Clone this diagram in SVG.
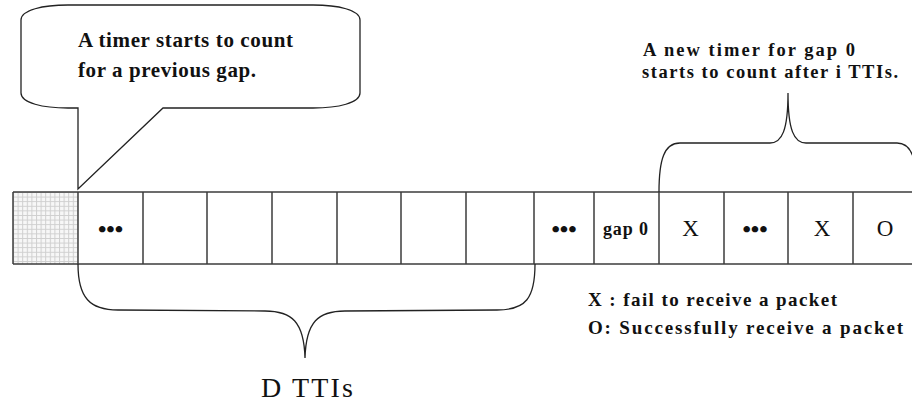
<svg xmlns="http://www.w3.org/2000/svg" width="912" height="406" viewBox="0 0 912 406">
  <defs>
    <!-- fine grid fill for the first (shaded) slot -->
    <pattern id="grid" width="4.6" height="4.6" patternUnits="userSpaceOnUse" x="13" y="192">
      <rect width="4.6" height="4.6" fill="#f7f7f7"/>
      <path d="M0,0.5 H4.6 M0.5,0 V4.6" stroke="#cfcfcf" stroke-width="1"/>
    </pattern>
    <style>
      .lbl { font-family: "Liberation Serif", "Times New Roman", serif; fill: #111; }
      .b { font-weight: bold; }
      .cell { fill: none; stroke: #3c3c3c; stroke-width: 1.5; }
      .line { fill: none; stroke: #222; stroke-width: 1.3; }
    </style>
  </defs>
  <rect width="912" height="406" fill="#fff"/>

  <!-- speech bubble -->
  <g id="callout">
    <path class="line" fill="#fff" d="M68,5 L313,5 C338,5 360,10 360,20 L360,93 C360,103 338,108 313,108 L163,108 L78,189 L78,108 L68,108 C43,108 21,103 21,93 L21,20 C21,10 43,5 68,5 Z"/>
    <text class="lbl b" x="78" y="47" font-size="21" textLength="215" lengthAdjust="spacing">A timer starts to count</text>
    <text class="lbl b" x="78" y="77" font-size="21" textLength="178" lengthAdjust="spacing">for a previous gap.</text>
  </g>

  <!-- TTI slot row -->
  <g id="slots">
    <rect x="13" y="192" width="65" height="72" fill="url(#grid)"/>
    <path class="cell" d="M13,192 H912 M13,264 H912 M13,192 V264 M78,192 V264 M143,192 V264 M207,192 V264 M272,192 V264 M337,192 V264 M401,192 V264 M466,192 V264 M534,192 V264 M594,192 V264 M659,192 V264 M724,192 V264 M788,192 V264 M853,192 V264"/>
    <text class="lbl b" x="110.5" y="237" font-size="24" text-anchor="middle">•••</text>
    <text class="lbl b" x="564" y="237" font-size="24" text-anchor="middle">•••</text>
    <text class="lbl b" x="625.5" y="235" font-size="18" text-anchor="middle" textLength="45" lengthAdjust="spacing">gap 0</text>
    <text class="lbl" x="690.5" y="236" font-size="23" text-anchor="middle">X</text>
    <text class="lbl b" x="755" y="237" font-size="24" text-anchor="middle">•••</text>
    <text class="lbl" x="822" y="236" font-size="23" text-anchor="middle">X</text>
    <text class="lbl" x="885" y="236" font-size="23" text-anchor="middle">O</text>
  </g>

  <!-- braces -->
  <g id="connectors">
    <path class="line" d="M78,264 C78,298 90,310 118,310 L265,311 C292,311 304,322 305,358 C306,322 318,311 345,311 L497,310 C526,310 535,298 535,264"/>
    <path class="line" d="M659,192 C659,160 664,143 680,143 L770,143 C782,143 788,130 788,93 C788,130 794,143 806,143 L897,143 C912,143 917,160 917,192"/>
  </g>

  <g id="brace-labels">
    <text class="lbl" x="307" y="397" font-size="28" text-anchor="middle" textLength="92" lengthAdjust="spacing">D TTIs</text>
    <text class="lbl b" x="643" y="56" font-size="18.5" textLength="212" lengthAdjust="spacing">A new timer for gap 0</text>
    <text class="lbl b" x="642" y="78" font-size="18.5" textLength="256" lengthAdjust="spacing">starts to count after i TTIs.</text>
  </g>

  <!-- legend -->
  <g id="legend">
    <text class="lbl b" x="588" y="306" font-size="19" textLength="249" lengthAdjust="spacing">X : fail to receive a packet</text>
    <text class="lbl b" x="588" y="334" font-size="19" textLength="315" lengthAdjust="spacing">O: Successfully receive a packet</text>
  </g>
</svg>
